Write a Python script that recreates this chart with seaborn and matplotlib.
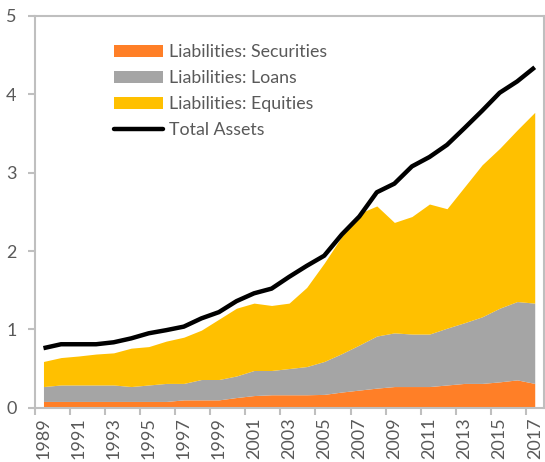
import numpy as np
import matplotlib
matplotlib.use("Agg")
import matplotlib.pyplot as plt
import seaborn as sns
from matplotlib.patches import Patch
from matplotlib.lines import Line2D

years = list(range(1989, 2018))
securities = [0.08, 0.08, 0.08, 0.08, 0.08, 0.08, 0.08, 0.08, 0.10, 0.10,
              0.10, 0.13, 0.155, 0.165, 0.165, 0.165, 0.17, 0.20, 0.225, 0.25,
              0.27, 0.27, 0.27, 0.29, 0.31, 0.31, 0.33, 0.355, 0.31]
loans = [0.19, 0.21, 0.21, 0.21, 0.21, 0.19, 0.21, 0.23, 0.21, 0.26,
         0.26, 0.275, 0.32, 0.31, 0.335, 0.36, 0.42, 0.49, 0.575, 0.665,
         0.685, 0.67, 0.67, 0.725, 0.775, 0.85, 0.94, 1.00, 1.025]
equities = [0.32, 0.35, 0.37, 0.395, 0.41, 0.49, 0.49, 0.54, 0.59, 0.63,
            0.77, 0.865, 0.86, 0.83, 0.835, 1.01, 1.255, 1.495, 1.68, 1.66,
            1.41, 1.50, 1.66, 1.525, 1.735, 1.94, 2.04, 2.19, 2.435]
total_assets = [0.76, 0.81, 0.81, 0.81, 0.835, 0.885, 0.95, 0.99, 1.035, 1.14,
                1.22, 1.36, 1.46, 1.52, 1.67, 1.81, 1.94, 2.21, 2.44, 2.75,
                2.86, 3.08, 3.20, 3.355, 3.57, 3.79, 4.02, 4.165, 4.345]
series_names = ["Liabilities: Securities", "Liabilities: Loans",
                "Liabilities: Equities", "Total Assets"]
y_ticks = [0, 1, 2, 3, 4, 5]

ORANGE = "#FF7F27"
GRAY = "#A5A5A5"
YELLOW = "#FFC000"
AXIS = "#BFBFBF"
TEXT = "#595959"

sns.set_theme(style="white")
plt.rcParams["font.family"] = ["Lato", "DejaVu Sans"]

fig = plt.figure(figsize=(5.45, 4.62), dpi=100)
ax = fig.add_axes([34.7 / 545, 1 - 407.7 / 462, (543.5 - 34.7) / 545, (407.7 - 16) / 462])

x = np.arange(len(years))
ax.stackplot(x, securities, loans, equities,
             colors=[ORANGE, GRAY, YELLOW], linewidth=0, zorder=2)

df = {"x": x, "total": total_assets}
sns.lineplot(x=df["x"], y=df["total"], ax=ax, color="black", linewidth=3.2,
             solid_capstyle="butt", zorder=3)

ax.set_xlim(-0.5, len(years) - 0.5)
ax.set_ylim(0, 5)
ax.set_yticks(y_ticks)
ax.set_yticklabels([str(v) for v in y_ticks])
ax.set_xticks(x[::2])
ax.set_xticklabels([str(y) for y in years[::2]], rotation=90)
ax.set_xticks(np.arange(-0.5, len(years) - 0.5, 2), minor=True)
ax.set_xlabel("")
ax.set_ylabel("")

for side in ["left", "bottom", "top", "right"]:
    ax.spines[side].set_visible(True)
    ax.spines[side].set_color(AXIS)
    ax.spines[side].set_linewidth(1.5)

ax.tick_params(axis="x", which="major", length=0, pad=7, labelsize=13, labelcolor=TEXT)
ax.tick_params(axis="x", which="minor", bottom=True, length=5, width=1.5, color=AXIS)
ax.tick_params(axis="y", left=True, length=5, width=1.5, color=AXIS, pad=8,
               labelsize=13, labelcolor=TEXT)

handles = [Patch(facecolor=ORANGE, edgecolor="none"),
           Patch(facecolor=GRAY, edgecolor="none"),
           Patch(facecolor=YELLOW, edgecolor="none"),
           Line2D([0], [0], color="black", linewidth=3.2)]
leg = ax.legend(handles, series_names, loc="upper left",
                bbox_to_anchor=(114 / 545, 1 - 44 / 462),
                bbox_transform=fig.transFigure, frameon=False,
                fontsize=12.8, handlelength=2.75, handleheight=0.65,
                handletextpad=0.35, labelspacing=0.56, borderpad=0,
                borderaxespad=0)
for t in leg.get_texts():
    t.set_color(TEXT)

fig.savefig("out.png", dpi=100)
